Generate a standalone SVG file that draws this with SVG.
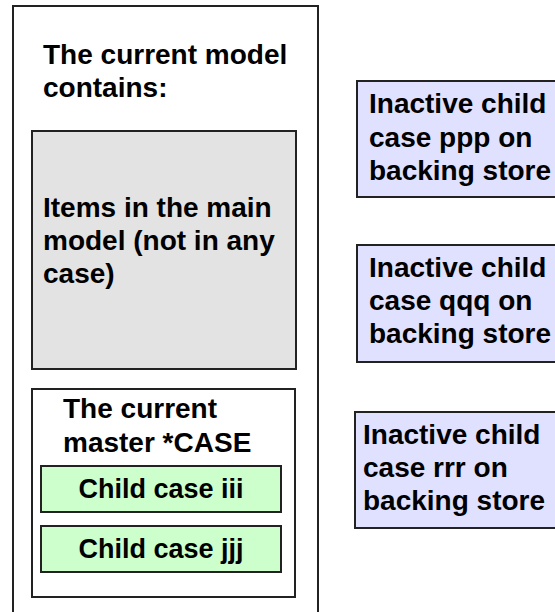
<svg xmlns="http://www.w3.org/2000/svg" width="555" height="612" viewBox="0 0 555 612">
<style>
.box{stroke:#222;stroke-width:2}
.t{font-family:"Liberation Sans",Arial,sans-serif;font-weight:bold;font-size:28px;fill:#000}
.c{font-size:27px;text-anchor:middle}
</style>
<rect width="555" height="612" fill="#fff"/>
<g id="current-model">
<rect class="box" x="13" y="6" width="305" height="625" fill="#fff"/>
<text class="t"><tspan x="43" y="64">The current model</tspan><tspan x="43" y="97">contains:</tspan></text>
</g>
<g id="main-items">
<rect class="box" x="32" y="131" width="264" height="238" fill="#e3e3e3"/>
<text class="t"><tspan x="43" y="217">Items in the main</tspan><tspan x="43" y="250">model (not in any</tspan><tspan x="43" y="283">case)</tspan></text>
</g>
<g id="master-case">
<rect class="box" x="32" y="389" width="263" height="208" fill="#fff"/>
<text class="t" font-size="27"><tspan x="63" y="418">The current</tspan><tspan x="63" y="452">master *CASE</tspan></text>
</g>
<g id="child-iii">
<rect class="box" x="41" y="466" width="240" height="46" fill="#ccffcc"/>
<text class="t c" x="161" y="498">Child case iii</text>
</g>
<g id="child-jjj">
<rect class="box" x="41" y="526" width="240" height="46" fill="#ccffcc"/>
<text class="t c" x="161" y="558">Child case jjj</text>
</g>
<g id="inactive-ppp">
<rect class="box" x="357" y="81" width="220" height="116" fill="#e0e0ff"/>
<text class="t"><tspan x="369" y="113">Inactive child</tspan><tspan x="369" y="147">case ppp on</tspan><tspan x="369" y="180">backing store</tspan></text>
</g>
<g id="inactive-qqq">
<rect class="box" x="357" y="245" width="220" height="117" fill="#e0e0ff"/>
<text class="t"><tspan x="369" y="277">Inactive child</tspan><tspan x="369" y="310">case qqq on</tspan><tspan x="369" y="343">backing store</tspan></text>
</g>
<g id="inactive-rrr">
<rect class="box" x="355" y="412" width="220" height="116" fill="#e0e0ff"/>
<text class="t"><tspan x="363" y="444">Inactive child</tspan><tspan x="363" y="477">case rrr on</tspan><tspan x="363" y="510">backing store</tspan></text>
</g>
<g id="connectors"></g>
</svg>
